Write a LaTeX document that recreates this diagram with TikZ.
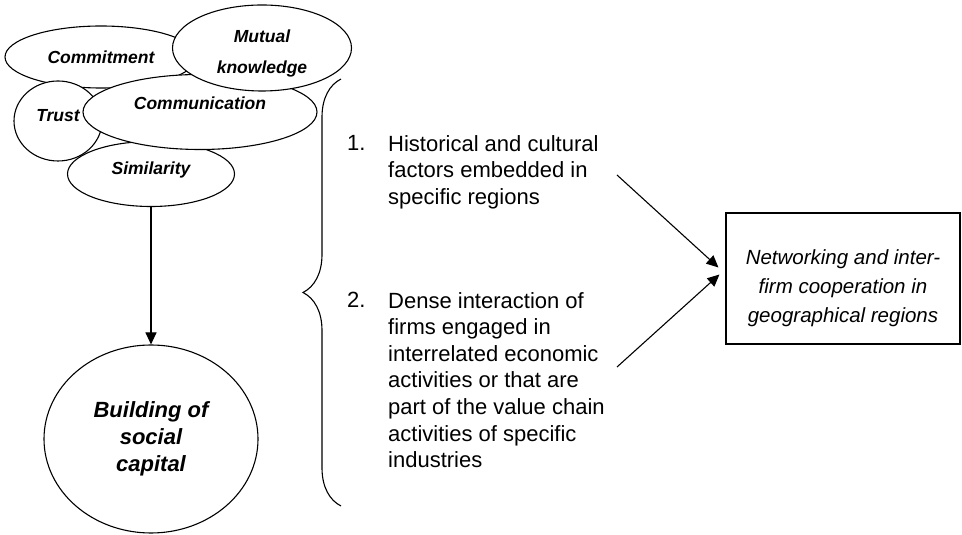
\documentclass[tikz,border=0pt]{standalone}
\usepackage{fontspec}
\setmainfont{Liberation Sans}
\usetikzlibrary{shapes.geometric,positioning,arrows.meta,decorations.pathreplacing}

\tikzset{
  blob/.style={ellipse, draw, fill=white, line width=1.1pt, inner sep=0pt,
    align=center, font=\fontsize{17.5}{31}\selectfont\bfseries\itshape},
  lifted/.style={text depth=#1},
  itemtxt/.style={anchor=north west, inner sep=0pt, align=left,
    font=\fontsize{22}{26.6}\selectfont},
  arr/.style={line width=1.1pt, -{Triangle[length=12pt,width=11pt]}}
}

\begin{document}
\begin{tikzpicture}[x=1pt, y=1pt]
         \useasboundingbox (0,0) rectangle (962,535);
         % the overlapping bubbles, back to front
         \node [blob, minimum width=192pt, minimum height=62pt] (commit) at (101,478) {Commitment};
         \node [blob, lifted=12pt, minimum width=88pt, minimum height=80pt] (trust) at (58,414) {Trust};
         \node [blob, lifted=12pt, minimum width=167pt, minimum height=65pt] (simil) at (151,361) {Similarity};
         \node [blob, lifted=18pt, minimum width=234pt, minimum height=75pt] (commun) at (200,423) {Communication};
         \node [blob, text height=54pt, minimum width=179pt, minimum height=86pt] (mutual) at (262,487) {Mutual\\knowledge};
         \node [blob, minimum width=214pt, minimum height=188pt,
                font=\fontsize{22}{27}\selectfont\bfseries\itshape] (capital) at (151,96) {Building of\\social\\capital};
         \draw [arr] (simil) -- (capital);
         % brace and the two factors
         \draw [line width=1.1pt, decorate, decoration={brace, amplitude=38pt}] (341,29) -- (341,456);
         \node [itemtxt] (histnum) at (347,400) {1.};
         \node [itemtxt] (hist) at (388,400) {Historical and cultural\\factors embedded in\\specific regions};
         \node [itemtxt] (densenum) at (347,243) {2.};
         \node [itemtxt] (dense) at (388,243) {Dense interaction of\\firms engaged in\\interrelated economic\\activities or that are\\part of the value chain\\activities of specific\\industries};
         % outcome box
         \node [draw, line width=1.1pt, minimum width=234pt, minimum height=131pt] (net) at (843,256.5) {};
         \node [align=center, inner sep=0pt, font=\fontsize{20.5}{29}\selectfont\itshape] (nettxt)
               at ([yshift=-10pt]net.center) {Networking and inter-\\firm cooperation in\\geographical regions};
         \coordinate (hist-out) at (617,360);
         \coordinate (dense-out) at (617,168);
         \draw [arr] (hist-out) -- ([shift={(-7pt,11pt)}]net.west);
         \draw [arr] (dense-out) -- ([shift={(-6pt,4pt)}]net.west);
 \end{tikzpicture}
\end{document}
